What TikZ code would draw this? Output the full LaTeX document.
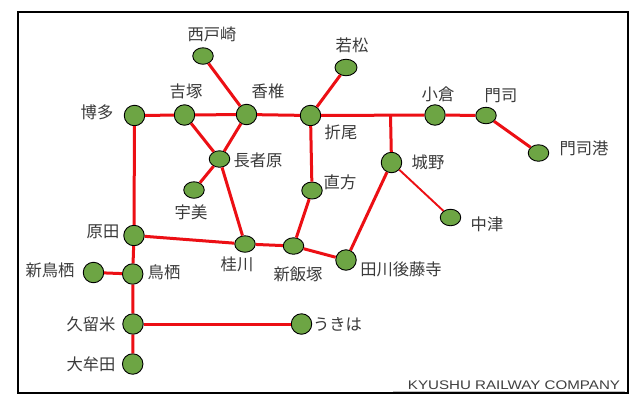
\documentclass[tikz,border=0pt]{standalone}
\usepackage{fontspec}
\setmainfont{Liberation Sans}
\newfontfamily\jpfont{Noto Sans CJK JP}
\usetikzlibrary{shapes.geometric}
\definecolor{stgreen}{HTML}{6DA544}
\definecolor{linered}{HTML}{EC0F14}
\definecolor{txtgray}{HTML}{3A3A3A}
\tikzset{
  big/.style={ellipse,draw=black,line width=0.9pt,fill=stgreen,inner sep=0pt,minimum width=20.5pt,minimum height=20.5pt},
  small/.style={ellipse,draw=black,line width=0.9pt,fill=stgreen,inner sep=0pt,minimum width=20.5pt,minimum height=16.5pt},
  lbl/.style={inner sep=0pt,text=txtgray,font=\jpfont\fontsize{16.3}{16.3}\selectfont},
  track/.style={draw=linered,line width=3pt},
  thintrack/.style={draw=linered,line width=1.9pt},
  frameline/.style={draw=black,line width=1.9pt}
}
\begin{document}
\begin{tikzpicture}[x=1pt,y=-1pt]
\useasboundingbox (0,0) rectangle (643,416);
\fill[white] (0,0) rectangle (643,416);
% stations
\node[small] (nishitozaki) at (203,56) {};
\node[big] (yoshizuka) at (184.5,115) {};
\node[big] (kashii) at (246.5,114.5) {};
\node[big] (hakata) at (134.5,115.5) {};
\node[big] (orio) at (310.5,115.5) {};
\node[small] (chojabaru) at (219.5,159) {};
\node[small] (umi) at (194,190) {};
\node[small,minimum height=17pt] (nogata) at (312,190.5) {};
\node[small,minimum width=22pt] (wakamatsu) at (346,67.5) {};
\node[big] (kokura) at (435,115) {};
\node[small] (moji) at (486,115.5) {};
\node[small] (mojiko) at (538.5,153) {};
\node[big] (jono) at (391.5,162.5) {};
\node[small] (nakatsu) at (450.5,217.5) {};
\node[big] (tagawa) at (346,260) {};
\node[big] (harada) at (134,235.5) {};
\node[small] (keisen) at (245,244) {};
\node[small] (iizuka) at (293.5,246) {};
\node[big] (tosu) at (132.7,274) {};
\node[big] (shintosu) at (93.5,272.5) {};
\node[big] (kurume) at (133,324) {};
\node[big] (omuta) at (132.7,364) {};
\node[big] (ukiha) at (301.5,324) {};
\coordinate (junction) at (390.5,115.2);
% tracks
\draw[track] (hakata) -- (yoshizuka);
\draw[track] (yoshizuka) -- (kashii);
\draw[track] (kashii) -- (orio);
\draw[track] (orio) -- (kokura);
\draw[track] (kokura) -- (moji);
\draw[track] (moji) -- (mojiko);
\draw[track] (nishitozaki) -- (kashii);
\draw[track] (wakamatsu) -- (orio);
\draw[track] (yoshizuka) -- (chojabaru);
\draw[track] (kashii) -- (chojabaru);
\draw[track] (chojabaru) -- (umi);
\draw[track] (chojabaru) -- (keisen);
\draw[track] (orio) -- (nogata);
\draw[track] (nogata) -- (iizuka);
\draw[track] (junction) -- (jono);
\draw[track] (jono) -- (tagawa);
\draw[thintrack] (jono) -- (nakatsu);
\draw[track] (hakata) -- (harada);
\draw[track] (harada) -- (keisen);
\draw[track] (keisen) -- (iizuka);
\draw[track] (iizuka) -- (tagawa);
\draw[track] (harada) -- (tosu);
\draw[track] (shintosu) -- (tosu);
\draw[track] (tosu) -- (kurume);
\draw[track] (kurume) -- (omuta);
\draw[track] (kurume) -- (ukiha);
% labels
\node[lbl] (t1) at (212,34) {西戸崎};
\node[lbl] (t2) at (186,91) {吉塚};
\node[lbl] (t3) at (268,91.5) {香椎};
\node[lbl] (t4) at (97,112) {博多};
\node[lbl] (t5) at (341,132) {折尾};
\node[lbl] (t6) at (258,160) {長者原};
\node[lbl] (t7) at (191,212) {宇美};
\node[lbl] (t8) at (340,182) {直方};
\node[lbl] (t9) at (352,45) {若松};
\node[lbl] (t10) at (438,94) {小倉};
\node[lbl] (t11) at (501,96) {門司};
\node[lbl] (t12) at (584,148) {門司港};
\node[lbl] (t13) at (428,162) {城野};
\node[lbl] (t14) at (487,224) {中津};
\node[lbl] (t15) at (401,269) {田川後藤寺};
\node[lbl] (t16) at (103,232) {原田};
\node[lbl] (t17) at (237,264) {桂川};
\node[lbl] (t18) at (298,274) {新飯塚};
\node[lbl] (t19) at (164,272) {鳥栖};
\node[lbl] (t20) at (50,270) {新鳥栖};
\node[lbl] (t21) at (91,324) {久留米};
\node[lbl] (t22) at (91,364) {大牟田};
\node[lbl] (t23) at (337.5,324) {うきは};
% frame and company mark
\draw[draw=black!25,line width=0.6pt] (393,391) -- (625,391);
\node[inner sep=0pt,text=black!75] (company) at (514,385) {\scalebox{1.21}[1]{\fontsize{12.5}{12.5}\selectfont KYUSHU RAILWAY COMPANY}};
\draw[frameline] (18,12) rectangle (627.7,392.7);
\end{tikzpicture}
\end{document}
